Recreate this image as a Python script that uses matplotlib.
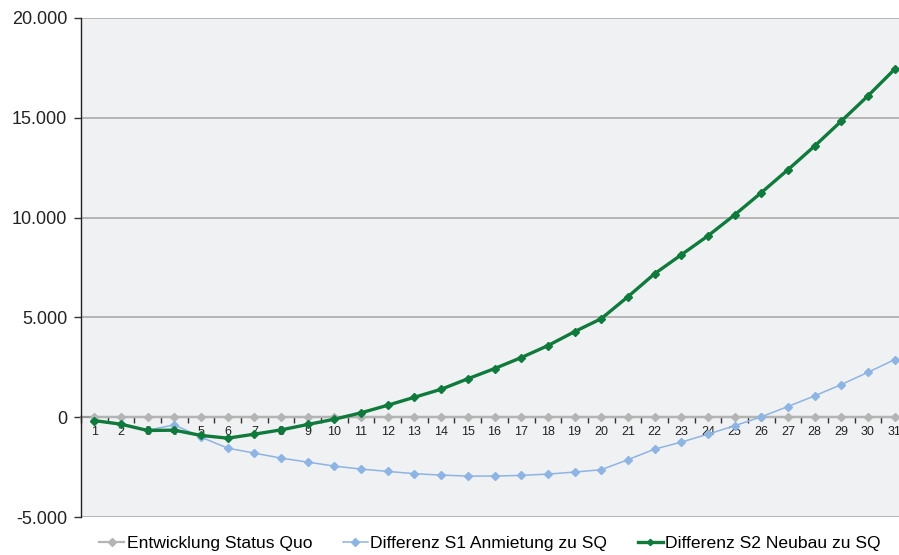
import matplotlib
matplotlib.use("Agg")
import matplotlib.pyplot as plt
from matplotlib.ticker import FixedLocator, FuncFormatter

# Jahre 1..31
years = list(range(1, 32))

status_quo = [0] * 31

s1_anmietung = [-170, -350, -650, -385, -1000, -1550, -1800, -2050, -2250, -2450,
                -2600, -2715, -2830, -2900, -2950, -2950, -2915, -2850, -2750, -2630,
                -2130, -1600, -1250, -850, -430, 20, 535, 1070, 1635, 2250, 2885]

s2_neubau = [-170, -350, -665, -650, -915, -1050, -850, -635, -365, -100,
             220, 600, 1000, 1400, 1925, 2435, 2985, 3585, 4285, 4935,
             6035, 7185, 8135, 9085, 10135, 11250, 12400, 13585, 14835, 16100, 17435]

series_labels = ["Entwicklung Status Quo", "Differenz S1 Anmietung zu SQ",
                 "Differenz S2 Neubau zu SQ"]

y_ticks = [-5000, 0, 5000, 10000, 15000, 20000]

plt.rcParams["font.family"] = ["Liberation Sans", "DejaVu Sans"]

fig = plt.figure(figsize=(8.99, 5.55), dpi=100)
ax = fig.add_axes([81 / 899, 1 - 517 / 555, (908 - 81) / 899, 499 / 555])
ax.set_facecolor("#f0f1f3")

ax.plot(years, status_quo, color="#b4b4b4", lw=1.6, marker="D", ms=4.5,
        mec="#b4b4b4", label=series_labels[0], zorder=3)
ax.plot(years, s1_anmietung, color="#8db4e2", lw=1.1, marker="D", ms=4.5,
        mec="#8db4e2", label=series_labels[1], zorder=4)
ax.plot(years, s2_neubau, color="#0f7a3c", lw=2.4, marker="D", ms=4,
        mec="#0f7a3c", label=series_labels[2], zorder=5)

ax.set_xlim(0.5, 31.5)
ax.set_ylim(-5000, 20000)

ax.yaxis.set_major_locator(FixedLocator(y_ticks))
ax.yaxis.set_major_formatter(FuncFormatter(lambda v, p: f"{int(v):,}".replace(",", ".")))
ax.grid(axis="y", color="#ababab", lw=1.2, zorder=1)
ax.set_axisbelow(True)
ax.tick_params(axis="y", length=5, width=1, color="#333333", labelsize=13,
               pad=5, labelcolor="#222222")

ax.set_xticks(years)
ax.set_xticklabels([str(y) for y in years])
ax.set_xticks([y + 0.5 for y in years[:-1]] + [0.5], minor=True)
ax.tick_params(axis="x", which="major", length=0, labelsize=9, pad=6,
               labelcolor="#222222")
ax.tick_params(axis="x", which="minor", length=4, width=1, color="#333333",
               direction="out")

ax.spines["bottom"].set_position(("data", 0))
ax.spines["bottom"].set_color("#999999")
ax.spines["bottom"].set_linewidth(1.6)
ax.spines["bottom"].set_zorder(2)
ax.spines["left"].set_color("#222222")
ax.spines["left"].set_linewidth(1.0)
ax.spines["top"].set_visible(False)
ax.spines["right"].set_visible(False)

fig.legend(loc="center", bbox_to_anchor=(490 / 899, 1 - 543 / 555), ncol=3,
           frameon=False, fontsize=12.6, handlelength=1.45, handletextpad=0.12,
           columnspacing=1.75, markerscale=0.8)

fig.savefig("out.png", dpi=100)
